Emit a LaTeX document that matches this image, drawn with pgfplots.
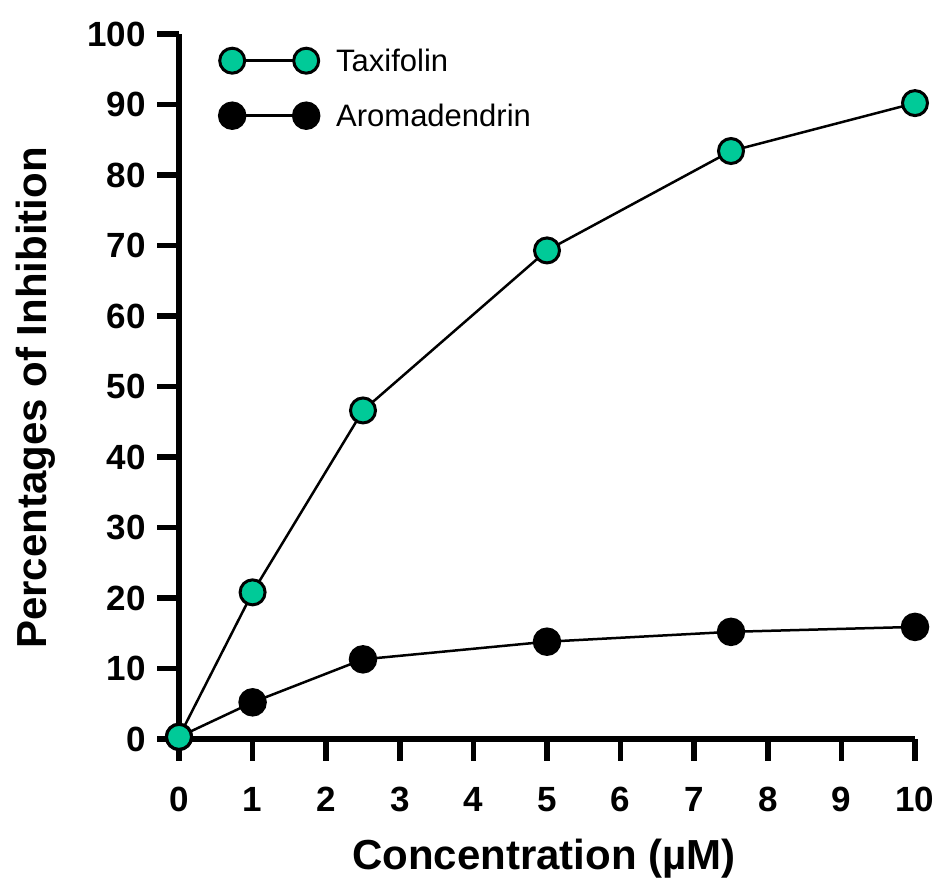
\documentclass[border=0pt]{standalone}
\usepackage{fontspec}
\setmainfont{Liberation Sans}
\usepackage{pgfplots}
\pgfplotsset{compat=1.18}
\usetikzlibrary{calc}
\definecolor{teal1}{RGB}{0,202,152}
\begin{document}
\begin{tikzpicture}
\begin{axis}[
  scale only axis, width=736pt, height=705pt,
  xmin=0, xmax=10, ymin=0, ymax=100,
  xtick={0,1,...,10}, ytick={0,10,...,100},
  axis x line=bottom, axis y line=left,
  axis line style={-, line width=5.5pt},
  tick align=outside, major tick length=22pt,
  every tick/.style={line width=5.5pt, black},
  /pgf/number format/assume math mode=true,
  tick label style={font=\bfseries\fontsize{35}{35}\selectfont},
  xticklabel style={anchor=north, inner sep=0pt, yshift=-26pt},
  yticklabel style={anchor=east, inner sep=0pt, xshift=-11pt},
  xlabel={Concentration (µM)},
  ylabel={Percentages of Inhibition},
  label style={font=\bfseries\fontsize{42}{42}\selectfont},
  xlabel style={at={($(rel axis cs:0.496,0)+(0,-131pt)$)}, anchor=base, inner sep=0pt},
  ylabel style={at={($(rel axis cs:0,0.4837)+(-132pt,0)$)}, anchor=base, inner sep=0pt},
  clip=false,
  legend style={at={(rel axis cs:0,1)}, anchor=north west, xshift=40pt, yshift=-14pt,
    draw=none, fill=none, inner sep=0pt, font=\fontsize{31}{31}\selectfont,
    nodes={inner sep=0pt}, row sep=29.5pt, column sep=17pt},
  legend cell align=left,
  legend image code/.code={\draw[#1] plot coordinates {(0pt,0pt) (74pt,0pt)};},
  reverse legend,
]
\addplot[black, line width=2.5pt, mark=*, mark size=13pt,
  mark options={fill=black, draw=black, line width=2.5pt}]
  coordinates {(0,0.3) (1,5.2) (2.5,11.3) (5,13.8) (7.5,15.2) (10,15.9)};
\addlegendentry{Aromadendrin}
\addplot[black, line width=2.5pt, mark=*, mark size=12.5pt,
  mark options={fill=teal1, draw=black, line width=3pt}]
  coordinates {(0,0.3) (1,20.8) (2.5,46.6) (5,69.3) (7.5,83.4) (10,90.2)};
\addlegendentry{Taxifolin}
\coordinate (O) at (axis cs:0,0);
\end{axis}
\pgfresetboundingbox
\path[use as bounding box] ($(O)+(-179pt,-146pt)$) rectangle ++(940pt,885pt);
\end{tikzpicture}
\end{document}
